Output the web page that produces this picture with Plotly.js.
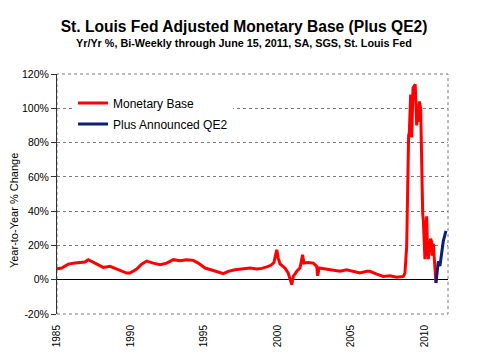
<!DOCTYPE html>
<html>
<head>
<meta charset="utf-8">
<script src="https://cdn.plot.ly/plotly-3.0.1.min.js"></script>
<style>html,body{margin:0;padding:0;background:#fff;}#chart{width:496px;height:357px;}</style>
</head>
<body>
<div id="chart"></div>
<script>
const baseYears = [1985.00,1985.05,1985.32,1985.55,1985.77,1986.22,1986.68,1986.90,1987.13,1987.36,1987.81,1988.15,1988.61,1989.17,1989.74,1989.97,1990.42,1990.76,1991.10,1991.55,1992.01,1992.46,1992.91,1993.37,1993.82,1994.27,1994.61,1995.07,1995.52,1995.97,1996.31,1996.65,1997.11,1997.67,1998.13,1998.59,1998.93,1999.27,1999.55,1999.76,1999.95,2000.05,2000.17,2000.51,2000.73,2000.97,2001.07,2001.31,2001.53,2001.71,2001.80,2002.10,2002.44,2002.67,2002.73,2002.84,2003.35,2003.80,2004.25,2004.71,2005.16,2005.61,2006.07,2006.29,2006.75,2007.20,2007.65,2008.11,2008.56,2008.67,2008.79,2008.86,2008.92,2008.97,2009.06,2009.13,2009.22,2009.31,2009.37,2009.47,2009.51,2009.56,2009.65,2009.74,2009.80,2009.88,2009.92,2009.99,2010.03,2010.10,2010.15,2010.20,2010.26,2010.33,2010.42,2010.49,2010.53,2010.60,2010.67,2010.73,2010.78];
const baseValues = [6.0,6.4,6.8,7.8,9.1,9.7,10.0,10.3,11.7,10.7,8.7,7.2,7.8,5.8,3.9,3.9,6.2,9.1,10.9,9.7,8.7,9.7,11.7,11.1,11.7,11.3,9.7,6.8,5.8,4.5,3.5,4.9,5.8,6.2,6.8,6.2,6.6,7.5,8.4,10.0,17.5,12.6,9.3,6.8,3.9,-2.9,1.9,4.9,6.8,14.6,9.7,10.0,9.7,7.8,2.3,6.8,6.2,5.8,4.9,5.8,4.9,3.9,4.9,4.9,3.3,1.9,2.3,1.4,1.9,3.9,19.4,74,84,86,108,83,112,113,114,90,98,92,104,100,64,38,35,14,12,30,37,20,12,18,24,22,14,21,11,5,-1.9];
const qe2Years = [2010.78,2010.85,2010.94,2011.05,2011.17,2011.28,2011.46];
const qe2Values = [-1.9,3,10.7,8,15,22.5,28.5];
const xTickVals = [1985,1990,1995,2000,2005,2010];
const xTickText = ['1985','1990','1995','2000','2005','2010'];
const yTickVals = [-20,0,20,40,60,80,100,120];
const yTickText = ['-20%','0%','20%','40%','60%','80%','100%','120%'];

const FONT = 'Arial, "Liberation Sans", sans-serif';
const traces = [
  {x: baseYears, y: baseValues, type: 'scatter', mode: 'lines', name: 'Monetary Base',
   legendgroup: 'a', line: {color: '#ff0000', width: 3}},
  {x: qe2Years, y: qe2Values, type: 'scatter', mode: 'lines', name: 'Plus Announced QE2',
   legendgroup: 'b', line: {color: '#0a1f78', width: 3}}
];
const layout = {
  width: 496, height: 357,
  margin: {l: 57, r: 48, t: 74, b: 43},
  paper_bgcolor: '#fff', plot_bgcolor: '#fff',
  font: {family: FONT, color: '#000'},
  title: {text: '<b>St. Louis Fed Adjusted Monetary Base (Plus QE2)</b>', font: {size: 15.6, family: FONT, color: '#000'},
          x: 0.492, xanchor: 'center', y: 0.927, yanchor: 'middle'},
  showlegend: true,
  legend: {x: 0.041, xanchor: 'left', y: 0.94, yanchor: 'top', bgcolor: '#fff',
           font: {size: 12, family: FONT}, tracegroupgap: 2, traceorder: 'grouped'},
  xaxis: {range: [1985, 2011.6], tickmode: 'array', tickvals: xTickVals, ticktext: xTickText,
          tickangle: -90, tickfont: {size: 10, family: FONT}, showgrid: false, zeroline: false,
          showline: false, ticks: '', ticklabelstandoff: 8, fixedrange: true},
  yaxis: {range: [-20, 120], tickmode: 'array', tickvals: yTickVals, ticktext: yTickText,
          tickfont: {size: 10.5, family: FONT}, showgrid: true, gridcolor: '#7a7a7a', griddash: 'dot', gridwidth: 1,
          zeroline: true, zerolinecolor: '#000', zerolinewidth: 1,
          showline: true, linecolor: '#333', linewidth: 1, ticks: 'outside', ticklen: 5, tickcolor: '#333',
          fixedrange: true},
  shapes: [
    {type: 'rect', xref: 'paper', yref: 'paper', x0: 0, x1: 1, y0: 0, y1: 1,
     line: {color: '#7a7a7a', width: 1, dash: 'dot'}, layer: 'below'}
  ],
  annotations: [
    {text: '<b>Yr/Yr %, Bi-Weekly through June 15, 2011, SA, SGS, St. Louis Fed</b>', xref: 'paper', yref: 'paper',
     x: 0.478, y: 1.129, xanchor: 'center', yanchor: 'middle', showarrow: false, font: {size: 10.8, family: FONT}},
    {text: 'Year-to-Year % Change', xref: 'paper', yref: 'paper', x: -0.11, y: 0.433, textangle: -90,
     xanchor: 'center', yanchor: 'middle', showarrow: false, font: {size: 11, family: FONT}}
  ]
};
Plotly.newPlot('chart', traces, layout, {displayModeBar: false, staticPlot: true});
</script>
</body>
</html>
